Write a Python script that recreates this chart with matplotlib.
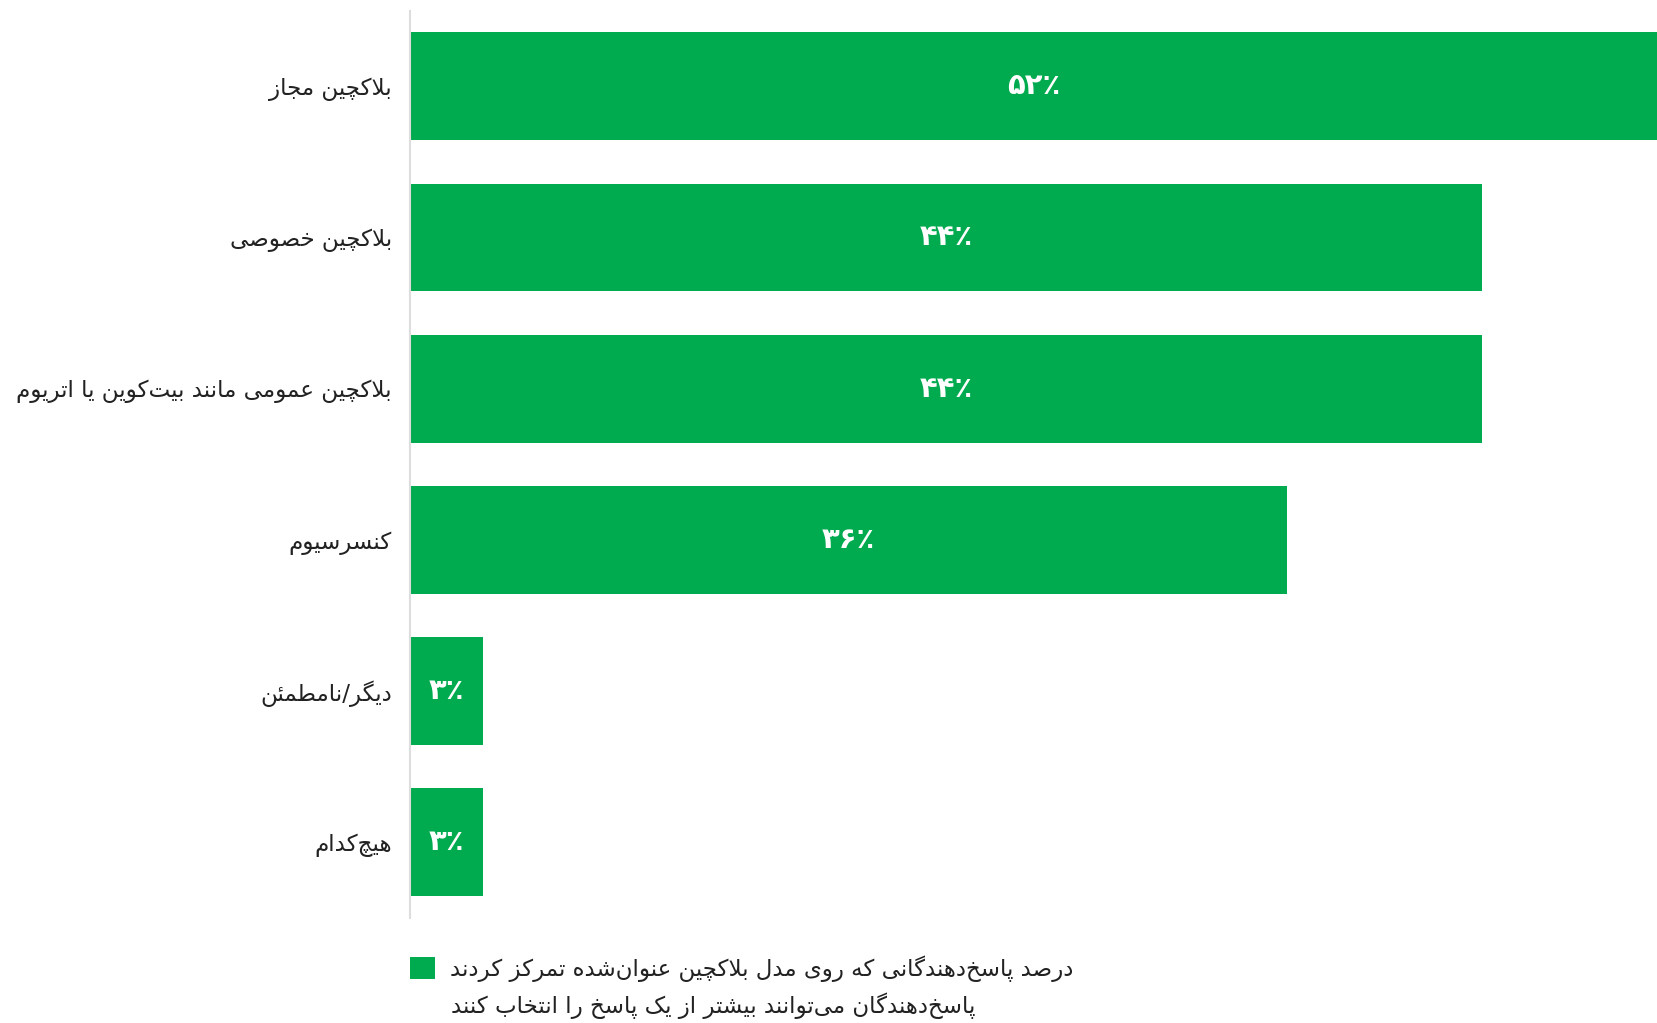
import matplotlib
matplotlib.use("Agg")
import matplotlib.pyplot as plt
from matplotlib.patches import Patch
import numpy as np

# ---------------- data ----------------
categories = [
    "بلاکچین مجاز",
    "بلاکچین خصوصی",
    "بلاکچین عمومی مانند بیت‌کوین یا اتریوم",
    "کنسرسیوم",
    "دیگر/نامطمئن",
    "هیچ‌کدام",
]
values = [52, 44, 44, 36, 3, 3]
value_labels = ["۵۲٪", "۴۴٪", "۴۴٪", "۳۶٪", "۳٪", "۳٪"]
legend_label = "درصد پاسخ‌دهندگانی که روی مدل بلاکچین عنوان‌شده تمرکز کردند"
note_text = "پاسخ‌دهندگان می‌توانند بیشتر از یک پاسخ را انتخاب کنند"

GREEN = "#00AA4F"

# ---------------- minimal Persian shaping (presentation forms + RTL) ----------------
FORMS = {
    # char: (isolated, final, initial, medial)
    "ا": ("\uFE8D", "\uFE8E", None, None),
    "آ": ("\uFE81", "\uFE82", None, None),
    "ب": ("\uFE8F", "\uFE90", "\uFE91", "\uFE92"),
    "پ": ("\uFB56", "\uFB57", "\uFB58", "\uFB59"),
    "ت": ("\uFE95", "\uFE96", "\uFE97", "\uFE98"),
    "ث": ("\uFE99", "\uFE9A", "\uFE9B", "\uFE9C"),
    "ج": ("\uFE9D", "\uFE9E", "\uFE9F", "\uFEA0"),
    "چ": ("\uFB7A", "\uFB7B", "\uFB7C", "\uFB7D"),
    "ح": ("\uFEA1", "\uFEA2", "\uFEA3", "\uFEA4"),
    "خ": ("\uFEA5", "\uFEA6", "\uFEA7", "\uFEA8"),
    "د": ("\uFEA9", "\uFEAA", None, None),
    "ذ": ("\uFEAB", "\uFEAC", None, None),
    "ر": ("\uFEAD", "\uFEAE", None, None),
    "ز": ("\uFEAF", "\uFEB0", None, None),
    "ژ": ("\uFB8A", "\uFB8B", None, None),
    "س": ("\uFEB1", "\uFEB2", "\uFEB3", "\uFEB4"),
    "ش": ("\uFEB5", "\uFEB6", "\uFEB7", "\uFEB8"),
    "ص": ("\uFEB9", "\uFEBA", "\uFEBB", "\uFEBC"),
    "ض": ("\uFEBD", "\uFEBE", "\uFEBF", "\uFEC0"),
    "ط": ("\uFEC1", "\uFEC2", "\uFEC3", "\uFEC4"),
    "ظ": ("\uFEC5", "\uFEC6", "\uFEC7", "\uFEC8"),
    "ع": ("\uFEC9", "\uFECA", "\uFECB", "\uFECC"),
    "غ": ("\uFECD", "\uFECE", "\uFECF", "\uFED0"),
    "ف": ("\uFED1", "\uFED2", "\uFED3", "\uFED4"),
    "ق": ("\uFED5", "\uFED6", "\uFED7", "\uFED8"),
    "ک": ("\uFB8E", "\uFB8F", "\uFB90", "\uFB91"),
    "گ": ("\uFB92", "\uFB93", "\uFB94", "\uFB95"),
    "ل": ("\uFEDD", "\uFEDE", "\uFEDF", "\uFEE0"),
    "م": ("\uFEE1", "\uFEE2", "\uFEE3", "\uFEE4"),
    "ن": ("\uFEE5", "\uFEE6", "\uFEE7", "\uFEE8"),
    "و": ("\uFEED", "\uFEEE", None, None),
    "ه": ("\uFEE9", "\uFEEA", "\uFEEB", "\uFEEC"),
    "ی": ("\uFBFC", "\uFBFD", "\uFBFE", "\uFBFF"),
    "ئ": ("\uFE89", "\uFE8A", "\uFE8B", "\uFE8C"),
}
LAM_ALEF = {"ا": ("\uFEFB", "\uFEFC"), "آ": ("\uFEF5", "\uFEF6")}


def joins_next(c):
    return c in FORMS and FORMS[c][2] is not None


def joins_prev(c):
    return c in FORMS


def shape(text):
    chars = list(text)
    out = []
    i = 0
    n = len(chars)
    while i < n:
        c = chars[i]
        prev = chars[i - 1] if i > 0 else None
        cp = prev is not None and joins_next(prev) and joins_prev(c)
        if c == "ل" and i + 1 < n and chars[i + 1] in LAM_ALEF:
            iso, fin = LAM_ALEF[chars[i + 1]]
            out.append(fin if cp else iso)
            i += 2
            continue
        if c in FORMS:
            nxt = chars[i + 1] if i + 1 < n else None
            cn = joins_next(c) and nxt is not None and joins_prev(nxt)
            iso, fin, ini, med = FORMS[c]
            if cp and cn:
                out.append(med)
            elif cp:
                out.append(fin)
            elif cn:
                out.append(ini)
            else:
                out.append(iso)
        elif c == "\u200c":
            pass
        else:
            out.append(c)
        i += 1
    return "".join(reversed(out))


plt.rcParams["font.family"] = ["DejaVu Sans"]

W, H = 1658, 1023
fig = plt.figure(figsize=(W / 100, H / 100), dpi=100)
ax = fig.add_axes([410 / W, 1 - 918 / H, 1 - 410 / W, (918 - 10.6) / H])

y = np.arange(len(categories))
bars = ax.barh(y, values, height=0.713, color=GREEN)
ax.bar_label(bars, labels=value_labels, label_type="center", color="white",
             fontsize=21, fontweight="bold")

ax.set_xlim(0, 51.2)
ax.set_ylim(5.5, -0.5)
ax.set_yticks(y)
ax.set_yticklabels([shape(c) for c in categories], fontsize=16.6, color="#222222")
ax.tick_params(axis="y", length=0, pad=13)
ax.set_xticks([])
for s in ["top", "right", "bottom"]:
    ax.spines[s].set_visible(False)
ax.spines["left"].set_color("#dddddd")
ax.spines["left"].set_linewidth(1.5)

fig.legend(handles=[Patch(facecolor=GREEN, edgecolor="none")],
           labels=[shape(legend_label)],
           loc="upper left", bbox_to_anchor=(410 / W, 1 - 955 / H),
           frameon=False, fontsize=16.5, handlelength=1.1, handleheight=1.1,
           handletextpad=0.65, borderpad=0, borderaxespad=0,
           labelcolor="#222222")
fig.text(451 / W, 1 - 1006 / H, shape(note_text), fontsize=16.5, color="#222222",
         ha="left", va="center")

fig.savefig("out.png", dpi=100)
